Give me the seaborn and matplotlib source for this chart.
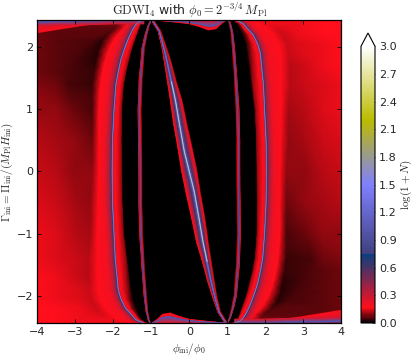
import numpy as np
import matplotlib
matplotlib.use("Agg")
import matplotlib.pyplot as plt
import seaborn as sns

# ---- rows (left half; right half is the point image) ----
gamma_rows = [2.44, 2.41, 2.37, 2.3, 2.2, 2.1, 1.95, 1.8, 1.6, 1.4, 1.2, 1.0, 0.5, 0.0, -0.5, -1.0, -1.4, -1.7, -1.9, -2.05, -2.2, -2.32, -2.38, -2.41, -2.44]
curve_a = [-1.2, -1.33, -1.40, -1.48, -1.56, -1.63, -1.72, -1.80, -1.87, -1.93, -1.955, -1.98, -2.02, -2.03, -2.02, -1.98, -1.95, -1.90, -1.87, -1.80, -1.68, -1.50, -1.42, -1.33, -1.2]
black_edge = [-1.0, -1.2, -1.26, -1.3, -1.36, -1.42, -1.5, -1.56, -1.64, -1.70, -1.73, -1.75, -1.76, -1.75, -1.74, -1.70, -1.62, -1.56, -1.52, -1.48, -1.40, -1.30, -1.24, -1.18, -1.0]
dark_width = [.02, .02, .02, .02, .02, .02, .025, .03, .03, .03, .03, .03, .03, .03, .03, .04, .05, .07, .08, .09, .09, .07, .06, .03, .02]
dark_value = [.10] * 17 + [.09, .09, .08, .08, .08, .08, .08, .08]
trough_left = [-1.9, -2.0, -2.1, -2.2, -2.4, -2.55, -2.8, -3.0, -3.1, -3.2, -3.15, -3.1, -3.0, -3.05, -3.0, -3.0, -3.0, -2.95, -2.9, -2.88, -2.85, -2.8, -2.75, -2.7, -2.6]
trough_right = [-1.75, -1.82, -1.88, -1.95, -2.15, -2.3, -2.4, -2.45, -2.5, -2.55, -2.55, -2.55, -2.55, -2.55, -2.6, -2.6, -2.65, -2.65, -2.62, -2.58, -2.45, -2.25, -2.1, -2.0, -1.9]
bright_peak = [-1.45, -1.55, -1.62, -1.72, -1.88, -2.0, -2.12, -2.2, -2.28, -2.33, -2.36, -2.38, -2.38, -2.38, -2.4, -2.42, -2.42, -2.42, -2.4, -2.35, -2.2, -2.0, -1.85, -1.72, -1.6]
value_edge = [.075, .075, .075, .075, .075, .075, .075, .075, .08, .085, .095, .105, .12, .13, .145, .155, .16, .165, .165, .165, .165, .17, .17, .17, .17]
value_band = [.07, .07, .07, .07, .068, .065, .065, .065, .07, .075, .085, .095, .11, .125, .135, .145, .15, .155, .158, .16, .165, .17, .17, .17, .17]
value_tl = [.08, .075, .072, .07, .06, .05, .05, .05, .052, .055, .065, .075, .095, .105, .115, .125, .135, .14, .142, .145, .155, .16, .162, .164, .165]
value_tr = [.10, .09, .08, .07, .05, .035, .035, .035, .037, .04, .047, .055, .08, .095, .105, .115, .12, .128, .132, .136, .14, .15, .155, .158, .16]

# inner thin curve
b_gamma = [2.44, 2.35, 2.2, 2.0, 1.5, 1.0, 0.5, 0.0, -0.5, -1.0, -1.6, -2.0, -2.24, -2.38, -2.44]
b_phi = [-1.0, -1.07, -1.14, -1.21, -1.28, -1.31, -1.30, -1.29, -1.29, -1.27, -1.21, -1.16, -1.12, -1.07, -1.03]
b_half = [.01, .02, .035, .04, .05, .05, .05, .05, .05, .05, .04, .04, .03, .02, .01]

# central diagonal band (upper half)
c_gamma = [2.44, 2.26, 2.0, 1.77, 1.45, 1.13, 0.77, 0.32, 0.0]
c_left = [-1.0, -0.82, -0.72, -0.66, -0.58, -0.5, -0.42, -0.29, -0.21]
c_mid = [-0.97, -0.785, -0.67, -0.58, -0.47, -0.36, -0.26, -0.13, 0.0]
c_right = [-0.94, -0.75, -0.6, -0.48, -0.34, -0.18, -0.06, 0.105, 0.21]

# top bump
d_phi = [-0.9, -0.6, -0.3, 0.02, 0.3, 0.5, 0.7, 0.85, 0.97]
d_edge = [2.44, 2.42, 2.40, 2.375, 2.32, 2.27, 2.29, 2.38, 2.44]
d_line = [2.44, 2.43, 2.42, 2.40, 2.37, 2.34, 2.35, 2.41, 2.44]

# top-left wedge
w_phi = [-4.0, -3.2, -2.5, -2.0, -1.6, -1.2]
w_edge = [2.23, 2.31, 2.38, 2.42, 2.44, 2.44]
w_line = [2.41, 2.42, 2.43, 2.44, 2.44, 2.44]

x_ticks = [-4, -3, -2, -1, 0, 1, 2, 3, 4]
y_ticks = [-2, -1, 0, 1, 2]
cbar_ticks = [0.0, 0.3, 0.6, 0.9, 1.2, 1.5, 1.8, 2.1, 2.4, 2.7, 3.0]

sns.set_style("ticks", {"axes.facecolor": "black", "xtick.direction": "in", "ytick.direction": "in",
                        "xtick.top": True, "ytick.right": True, "axes.edgecolor": "black"})
plt.rcParams["font.family"] = ["DejaVu Sans"]
plt.rcParams["mathtext.fontset"] = "cm"
plt.rcParams["font.size"] = 8

W, H = 413, 356
fig = plt.figure(figsize=(W / 100, H / 100), dpi=100)
ax = fig.add_axes([37.3 / W, 33 / H, 304 / W, 303 / H])
cax = fig.add_axes([361 / W, 33 / H, 14 / W, 290 / H])

norm = matplotlib.colors.Normalize(0, 3)
cmap = plt.get_cmap("gist_stern").copy()
cmap.set_over("white")


def mesh(X, Y, C):
    for s in (1, -1):
        ax.pcolormesh(s * np.asarray(X), s * np.asarray(Y), np.asarray(C), shading="gouraud",
                      cmap=cmap, norm=norm)


def thin(x, y, core="#a0a0cc", color="#5056b8", lw=0.8, core_lw=0.3):
    x, y = np.asarray(x, float), np.asarray(y, float)
    for s in (1, -1):
        sns.lineplot(x=s * x, y=s * y, sort=False, estimator=None, color=color, lw=lw, ax=ax, legend=False)
        if core:
            sns.lineplot(x=s * x, y=s * y, sort=False, estimator=None, color=core, lw=core_lw, ax=ax, legend=False)


# outer field
A = np.array(curve_a)
E = np.array(black_edge)
n = len(A)
cols_x = [np.full(n, -4.0), np.full(n, -3.5), trough_left, trough_right, bright_peak, A - .2, A - .07, A - .02, A,
          A + .015, A + .035, A + .1, E - np.array(dark_width), E, E + .005]
cols_v = [value_edge, value_band, value_tl, value_tr, np.full(n, .17), np.full(n, .2), np.full(n, .38), np.full(n, .6),
          np.full(n, 0.9), np.full(n, .45), np.full(n, .2), np.full(n, .17), dark_value, np.full(n, .02), np.zeros(n)]
X = np.column_stack(cols_x)
Y = np.tile(np.array(gamma_rows)[:, None], (1, X.shape[1]))
mesh(X, Y, np.column_stack(cols_v))

# inner thin curve strip
B, Bh = np.array(b_phi), np.array(b_half)
fr = np.array([-1.0, -0.7, -0.25, 0.0, 0.25, 0.7, 1.0])
X = np.column_stack([B + f * Bh for f in fr])
Y = np.tile(np.array(b_gamma)[:, None], (1, len(fr)))
mesh(X, Y, np.tile(np.array([0, .16, .45, .9, .45, .16, 0])[None, :], (len(B), 1)))

# central band
cg = np.r_[c_gamma, -np.array(c_gamma[-2::-1])]
cl = np.r_[c_left, -np.array(c_right[-2::-1])]
cm_ = np.r_[c_mid, -np.array(c_mid[-2::-1])]
cr = np.r_[c_right, -np.array(c_left[-2::-1])]
fr = np.array([0, .06, .35, .65, .85, 1.0])
vals = np.array([0, .17, .32, .6, .95, 1.3])
XL = np.column_stack([cl + f * (cm_ - cl) for f in fr])
XR = np.column_stack([cr + f * (cm_ - cr) for f in fr[-2::-1]])
X = np.column_stack([XL, XR])
Y = np.tile(cg[:, None], (1, X.shape[1]))
V = np.r_[vals, vals[-2::-1]]
ax.pcolormesh(X, Y, np.tile(V[None, :], (len(cg), 1)), shading="gouraud", cmap=cmap, norm=norm)

# bump
de, dl = np.array(d_edge), np.array(d_line)
top = np.full(len(de), 2.44)
X = np.tile(np.array(d_phi)[:, None], (1, 5))
Y = np.column_stack([de, de + .2 * (dl - de), dl - .1 * (dl - de), dl, top])
mesh(X, Y, np.tile(np.array([0, .17, .25, 1.0, .2])[None, :], (len(de), 1)))

# wedge
we, wl = np.array(w_edge), np.array(w_line)
top = np.full(len(we), 2.44)
X = np.tile(np.array(w_phi)[:, None], (1, 5))
Y = np.column_stack([we, we + .01, wl - .06, wl, top])
Y = np.minimum(Y, 2.44)
mesh(X, Y, np.tile(np.array([.09, .17, .25, 1.0, .4])[None, :], (len(we), 1)))

# thin curves
thin(curve_a, gamma_rows, lw=0.7, core_lw=0.3)
thin(b_phi, b_gamma, core=None, lw=0.45)
thin(c_mid, c_gamma, color="#6a6ac8", lw=0.6, core=None)
thin(c_mid[4:], c_gamma[4:], color="#7474d0", lw=0.9, core="#d8d8a8", core_lw=0.5)
thin(d_phi, d_line, core=None, lw=0.5)
thin(w_phi[:3], w_line[:3], core=None, lw=0.5)

ax.set_xlim(-4, 4)
ax.set_ylim(-2.44, 2.44)
ax.set_xticks(x_ticks)
ax.set_yticks(y_ticks)
ax.grid(False)
ax.tick_params(length=3, width=0.6, color="black", labelsize=8, pad=3)
for sp in ax.spines.values():
    sp.set_linewidth(0.9)
    sp.set_visible(True)
ax.set_axisbelow(False)
ax.set_xlabel(r"$\phi_{\rm ini}/\phi_0$", fontsize=8, labelpad=3)
ax.set_ylabel(r"$\Gamma_{\rm ini}=\Pi_{\rm ini}/(M_{\rm Pl}H_{\rm ini})$", fontsize=8, labelpad=1)
ax.set_title(r"$\mathrm{GDWI}_4$ with $\phi_0=2^{-3/4}\,M_{\rm Pl}$", fontsize=9, pad=3)

sm = matplotlib.cm.ScalarMappable(norm=norm, cmap=cmap)
cb = fig.colorbar(sm, cax=cax, extend="max", extendfrac=0.048, ticks=cbar_ticks)
cb.ax.tick_params(length=2, width=0.5, direction="in", labelsize=8, pad=3, right=True, left=False)
cb.ax.set_yticklabels([f"{t:.1f}" for t in cbar_ticks])
cb.outline.set_linewidth(0.8)
cb.set_label(r"$\log(1+N)$", fontsize=8, labelpad=1)

fig.savefig("out.png", dpi=100)
